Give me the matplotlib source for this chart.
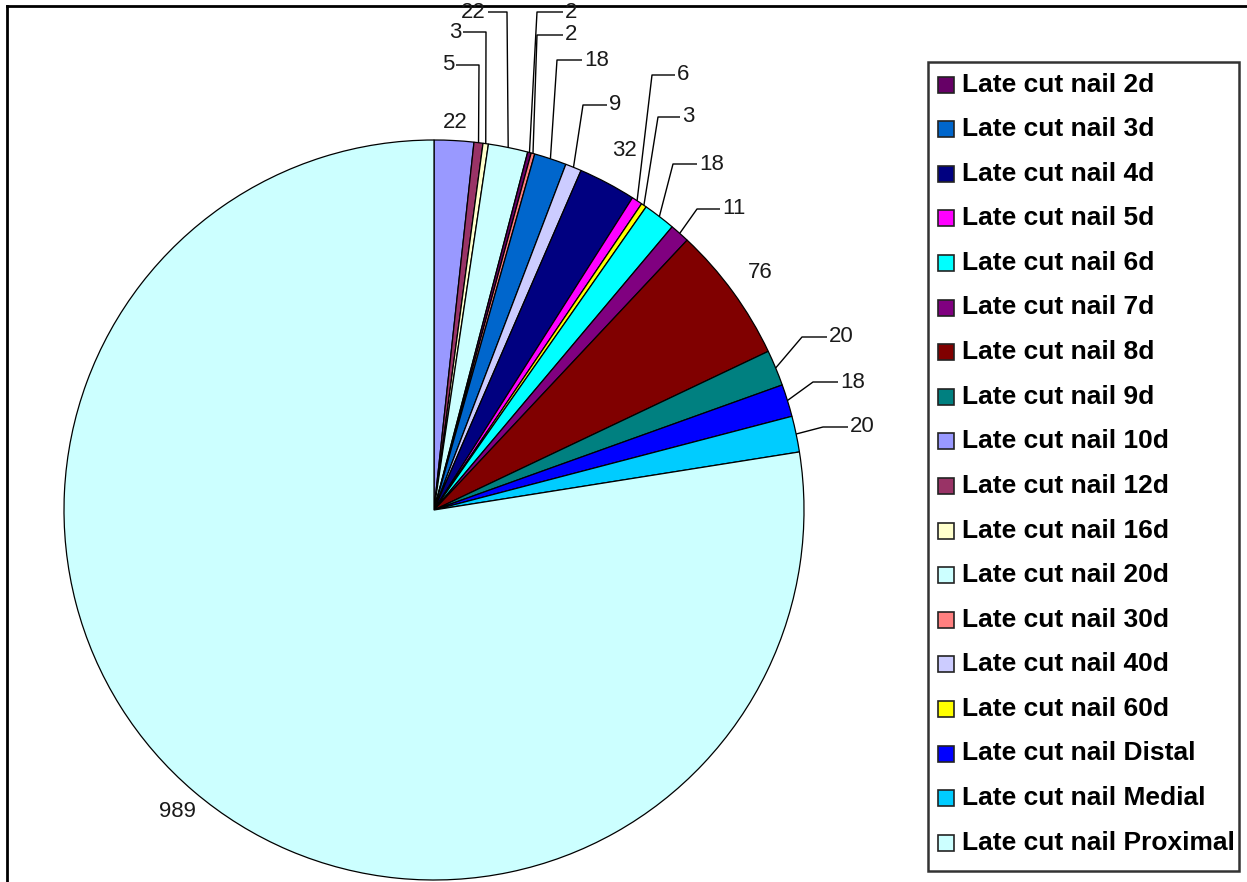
import numpy as np
import matplotlib
matplotlib.use("Agg")
import matplotlib.pyplot as plt
from matplotlib.patches import Rectangle

plt.rcParams["font.family"] = ["Liberation Sans", "DejaVu Sans"]

W, H = 1247, 882

# Slices in the order the chart draws them (clockwise from 12 o'clock)
slice_names = ["10d", "12d", "16d", "20d", "2d", "30d", "3d", "40d", "4d", "5d",
               "60d", "6d", "7d", "8d", "9d", "Distal", "Medial", "Proximal"]
slice_counts = [22, 5, 3, 22, 2, 2, 18, 9, 32, 6, 3, 18, 11, 76, 20, 18, 20, 989]
slice_colors = ["#9999FF", "#993366", "#FFFFCC", "#CCFFFF", "#660066", "#FF8080",
                "#0066CC", "#CCCCFF", "#000080", "#FF00FF", "#FFFF00", "#00FFFF",
                "#800080", "#800000", "#008080", "#0000FF", "#00CCFF", "#CCFFFF"]

# Legend order
legend_names = ["2d", "3d", "4d", "5d", "6d", "7d", "8d", "9d", "10d", "12d", "16d",
                "20d", "30d", "40d", "60d", "Distal", "Medial", "Proximal"]

# Label layout (pixel coords, y from top).
# (bend_x, bend_y, end_x) for leader lines, or ("r", factor) for plain labels
label_layout = [
    ("r", 1.05), (479, 65, 456), (486, 32, 463), (507, 12, 488), (537, 12, 563),
    (537, 35, 563), (557, 60, 582), (583, 105, 607), ("r", 1.10), (652, 75, 675),
    (658, 117, 680), (673, 164, 697), (697, 209, 720), ("r", 1.09), (802, 337, 827),
    (813, 382, 838), (823, 427, 848), ("r", 1.07),
]

cx, cy, rad = 434, H - 510, 370

fig = plt.figure(figsize=(W / 100, H / 100), dpi=100)
ax = fig.add_axes([0, 0, 1, 1])

wedges, _ = ax.pie(
    slice_counts,
    colors=slice_colors,
    startangle=90,
    counterclock=False,
    center=(cx, cy),
    radius=rad,
    wedgeprops=dict(edgecolor="black", linewidth=0.9),
)

label_kw = dict(fontsize=16, color="#1a1a1a")
for w, val, lay in zip(wedges, slice_counts, label_layout):
    mid = np.deg2rad((w.theta1 + w.theta2) / 2)
    ex, ey = cx + rad * np.cos(mid), cy + rad * np.sin(mid)
    if lay[0] == "r":
        f = lay[1]
        ax.text(cx + f * rad * np.cos(mid), cy + f * rad * np.sin(mid), str(val),
                ha="center", va="center", **label_kw)
        continue
    bx, by, hx = lay
    by = H - by
    ax.plot([ex, bx, hx], [ey, by, by], color="black", linewidth=1.0,
            solid_capstyle="butt")
    if hx > bx:
        ax.text(hx + 2, by, str(val), ha="left", va="center", **label_kw)
    else:
        ax.text(hx - 2, by, str(val), ha="right", va="center", **label_kw)

# Legend drawn as a boxed list
color_of = dict(zip(slice_names, slice_colors))
lx0, ly0, lx1, ly1 = 928, 62, 1239, 871
ax.add_patch(Rectangle((lx0, H - ly1), lx1 - lx0, ly1 - ly0, facecolor="white",
                       edgecolor="#333333", linewidth=1.8, zorder=3))
row0, step = 84.5, 44.6
for i, name in enumerate(legend_names):
    yc = H - (row0 + i * step)
    ax.add_patch(Rectangle((938, yc - 8), 16, 16, facecolor=color_of[name],
                           edgecolor="#222222", linewidth=1.2, zorder=4))
    ax.text(962, yc, "Late cut nail " + name, ha="left", va="center",
            fontsize=19, fontweight="bold", color="black", zorder=4)

# Outer chart border (top and left visible)
ax.plot([7, W], [H - 6, H - 6], color="black", linewidth=2, clip_on=False)
ax.plot([7, 7], [H - 6, 0], color="black", linewidth=2, clip_on=False)

ax.set_xlim(0, W)
ax.set_ylim(0, H)
ax.set_aspect("equal", adjustable="box")
ax.axis("off")

fig.savefig("out.png", dpi=100, facecolor="white")
